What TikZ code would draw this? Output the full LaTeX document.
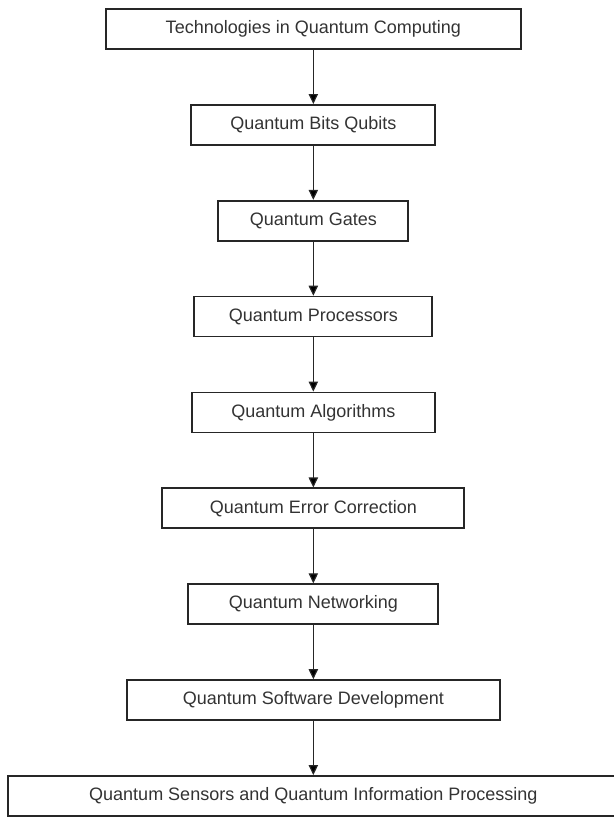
\documentclass[tikz,border=0pt]{standalone}
\usepackage{fontspec}
\setmainfont{Liberation Sans}
\usetikzlibrary{arrows.meta,positioning}
\begin{document}
\begin{tikzpicture}[node distance=71.9pt,
    stage/.style={draw=black!85, line width=1.3pt, rectangle, minimum height=30pt,
      font=\fontsize{13.5}{16}\selectfont, text=black!80},
    flow/.style={line width=0.9pt, draw=black!85, -{Triangle[length=7.5pt,width=7pt]}}]
          \useasboundingbox (0,0) rectangle (460.5pt,-613.5pt);

          \node[stage, minimum width=311pt] (tech) at (235pt,-21.75pt) {Technologies in Quantum Computing};
          \node[stage, minimum width=183pt, below of=tech] (qubits) {Quantum Bits Qubits};
          \node[stage, minimum width=142.5pt, below of=qubits] (gates) {Quantum Gates};
          \node[stage, minimum width=178.5pt, below of=gates] (proc) {Quantum Processors};
          \node[stage, minimum width=182pt, below of=proc] (algo) {Quantum Algorithms};
          \node[stage, minimum width=226.5pt, below of=algo] (qec) {Quantum Error Correction};
          \node[stage, minimum width=187.5pt, below of=qec] (net) {Quantum Networking};
          \node[stage, minimum width=280pt, below of=net] (soft) {Quantum Software Development};
          \node[stage, minimum width=458pt, below of=soft] (sens) {Quantum Sensors and Quantum Information Processing};

          \path[flow]
          (tech) edge (qubits)
          (qubits) edge (gates)
          (gates) edge (proc)
          (proc) edge (algo)
          (algo) edge (qec)
          (qec) edge (net)
          (net) edge (soft)
          (soft) edge (sens);
        \end{tikzpicture}
\end{document}
